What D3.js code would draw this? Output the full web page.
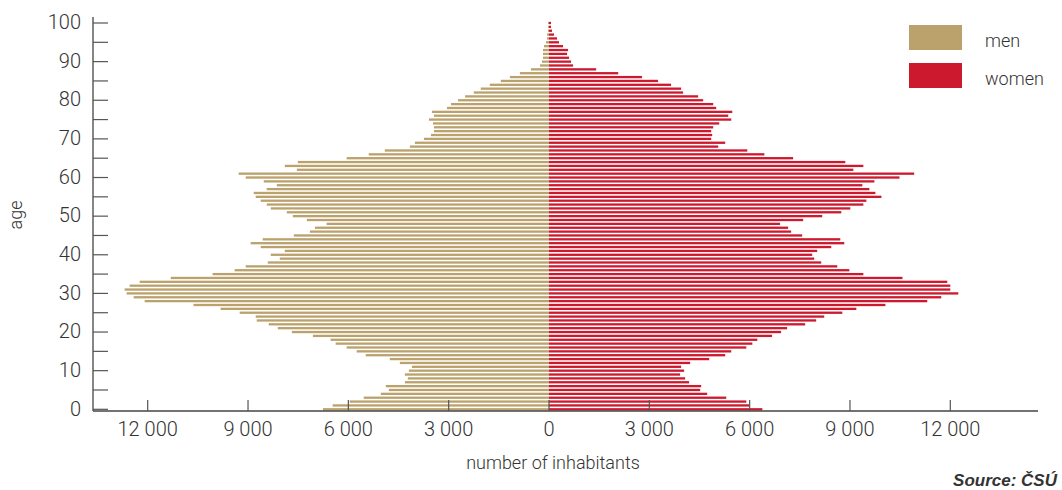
<!DOCTYPE html>
<html>
<head>
<meta charset="utf-8">
<script src="https://cdn.jsdelivr.net/npm/d3@7"></script>
<style>
  html, body { margin: 0; padding: 0; background: #fff; }
  svg { display: block; }
  text { font-family: Roboto, "Liberation Sans", sans-serif; font-weight: 300; fill: #333; }
</style>
</head>
<body>
<svg id="chart" width="1062" height="490"></svg>
<script>
// ages 0..100
const ages = d3.range(0, 101);
const men = [6760,6470,5960,5540,5030,4790,4880,4310,4220,4310,
             4190,4100,4460,4760,5480,5750,6050,6380,6530,7060,
             7690,8110,8380,8740,8770,9250,9820,10630,12090,12420,
             12630,12690,12540,12240,11310,10060,9400,9070,8410,8050,
             8320,7900,8620,8920,8560,7630,7150,7000,6650,7240,
             7660,7840,8320,8440,8620,8770,8830,8440,8140,8530,
             9070,9280,7540,7900,7510,6050,5390,4910,4160,4010,
             3740,3530,3440,3440,3470,3590,3440,3500,3050,2930,
             2720,2510,2250,2040,1770,1440,1170,870,540,270,
             210,180,180,180,150,90,60,60,30,30,30];
const women = [6380,5990,5900,5300,4730,4520,4550,4190,4070,3920,
               4040,3950,4220,4790,5270,5450,5900,6080,6230,6670,
               6940,7120,7660,7990,8230,8770,9190,10060,11310,11730,
               12240,12000,12000,11910,10570,9400,8980,8620,8140,7930,
               7870,8020,8440,8830,8710,7570,7240,7150,6910,7600,
               8170,8740,9010,9400,9490,9940,9760,9580,9370,9730,
               10480,10920,9100,9400,8860,7300,6440,5930,5060,5270,
               4850,4880,4850,4910,5090,5450,5360,5480,5000,4910,
               4610,4460,4010,3950,3650,3260,2780,2070,1410,720,
               660,600,540,570,420,300,240,150,90,60,60];
const xTicks = [0, 3000, 6000, 9000, 12000];
const yTicks = d3.range(0, 101, 5);
const yLabels = d3.range(0, 101, 10);
const seriesNames = ["men", "women"];
const colors = ["#bba16c", "#cc192e"];

const svg = d3.select("#chart");
svg.append("rect").attr("width", 1062).attr("height", 490).attr("fill", "#fff");

const cx = 549;
const xL = d3.scaleLinear().domain([0, 12000]).range([cx, 147.7]);
const xR = d3.scaleLinear().domain([0, 12000]).range([cx, 950.3]);
const y = d3.scaleLinear().domain([0, 100]).range([409.3, 23]);
const barH = 2.3;

// bars
svg.append("g").selectAll("rect").data(ages).join("rect")
  .attr("x", a => xL(men[a]))
  .attr("width", a => cx - xL(men[a]))
  .attr("y", a => y(a) - barH / 2)
  .attr("height", barH)
  .attr("fill", colors[0]);
svg.append("g").selectAll("rect").data(ages).join("rect")
  .attr("x", cx)
  .attr("width", a => xR(women[a]) - cx)
  .attr("y", a => y(a) - barH / 2)
  .attr("height", barH)
  .attr("fill", colors[1]);

// y axis
const axisX = 93, axisY = 411;
const yAxis = svg.append("g");
yAxis.append("line").attr("x1", axisX).attr("x2", axisX).attr("y1", 17).attr("y2", axisY)
  .attr("stroke", "#444").attr("stroke-width", 1.3);
yAxis.selectAll("line.t").data(yTicks).join("line").attr("class", "t")
  .attr("x1", axisX).attr("x2", axisX + 15)
  .attr("y1", d => y(d)).attr("y2", d => y(d))
  .attr("stroke", "#555").attr("stroke-width", 1.2);
yAxis.selectAll("text").data(yLabels).join("text")
  .attr("x", 81).attr("y", d => y(d) - 1).attr("dy", "0.36em")
  .attr("text-anchor", "end").attr("font-size", 20)
  .text(d => d);

// x axis
const fmt = v => d3.format(",")(v).replace(/,/g, " ");
const xAxis = svg.append("g");
xAxis.append("line").attr("x1", axisX).attr("x2", 1038).attr("y1", axisY).attr("y2", axisY)
  .attr("stroke", "#444").attr("stroke-width", 1.3);
const xTickData = xTicks.slice(1).map(v => ({v, x: xL(v)}))
  .concat([{v: 0, x: cx}])
  .concat(xTicks.slice(1).map(v => ({v, x: xR(v)})));
xAxis.selectAll("line.t").data(xTickData).join("line").attr("class", "t")
  .attr("x1", d => d.x).attr("x2", d => d.x)
  .attr("y1", axisY).attr("y2", axisY - 11)
  .attr("stroke", "#555").attr("stroke-width", 1.2);
xAxis.selectAll("text").data(xTickData).join("text")
  .attr("x", d => d.x).attr("y", 436)
  .attr("text-anchor", "middle").attr("font-size", 20)
  .text(d => fmt(d.v));

// axis titles
svg.append("text").attr("x", 553).attr("y", 469).attr("text-anchor", "middle")
  .attr("font-size", 18).text("number of inhabitants");
svg.append("text").attr("transform", "translate(22,215) rotate(-90)")
  .attr("text-anchor", "middle").attr("font-size", 18).text("age");

// legend
const lg = svg.append("g");
seriesNames.forEach((n, i) => {
  lg.append("rect").attr("x", 909).attr("y", 25 + i * 38).attr("width", 53).attr("height", 25)
    .attr("fill", colors[i]);
  lg.append("text").attr("x", 985).attr("y", 41 + i * 38).attr("dy", "0.36em")
    .attr("font-size", 18).text(n);
});

// source
svg.append("text").attr("x", 1057).attr("y", 486).attr("text-anchor", "end")
  .attr("font-size", 17).attr("font-style", "italic")
  .style("font-family", "'Liberation Sans', Arial, sans-serif").style("font-weight", "bold")
  .text("Source: ČSÚ");
</script>
</body>
</html>
